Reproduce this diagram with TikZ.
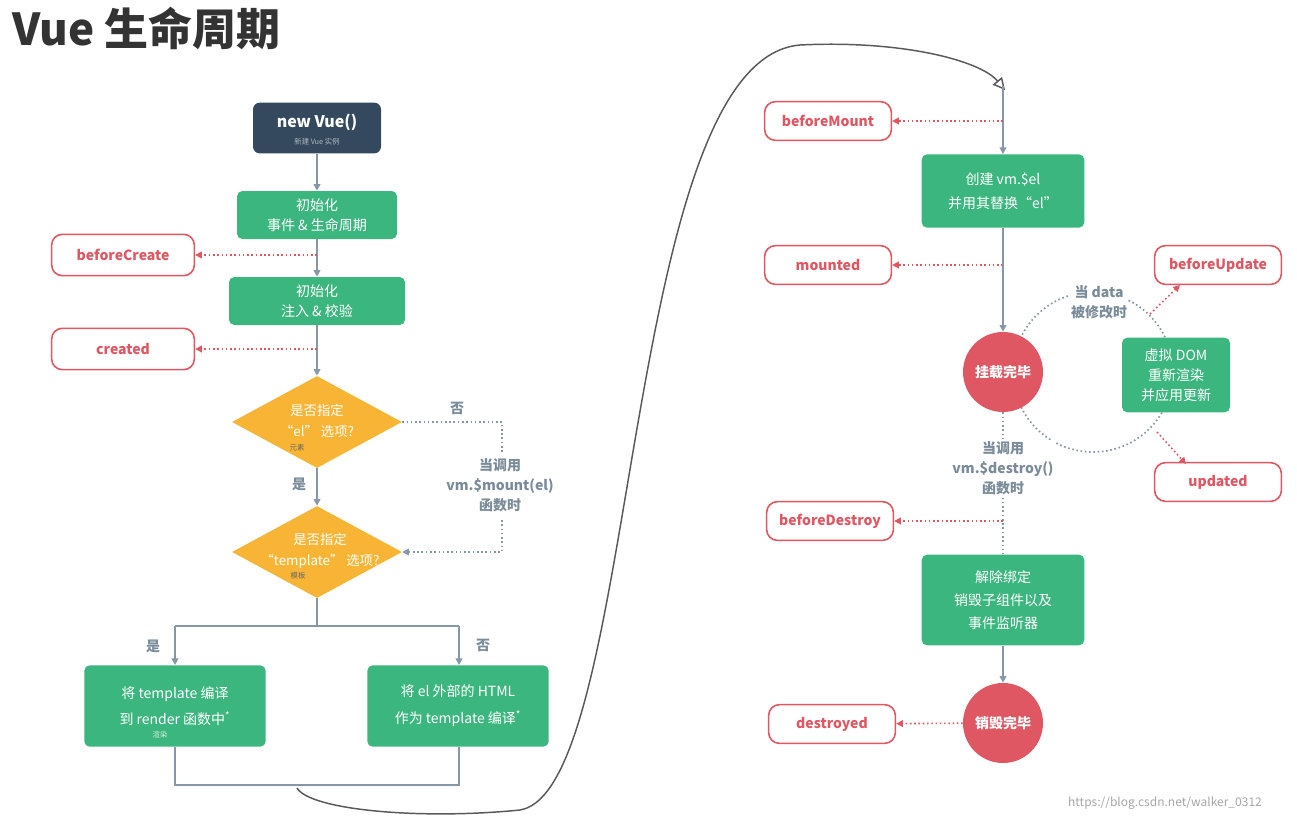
\documentclass[tikz,border=0pt]{standalone}
\usepackage{fontspec}
\setmainfont{Noto Sans CJK SC}
\usetikzlibrary{arrows.meta,shapes.geometric}
\definecolor{vgreen}{HTML}{3CB67F}
\definecolor{vdark}{HTML}{35495E}
\definecolor{vred}{HTML}{DE5762}
\definecolor{vorange}{HTML}{F8B434}
\definecolor{vgray}{HTML}{8797A6}
\definecolor{vtext}{HTML}{7A8B99}
\begin{document}
\begin{tikzpicture}[x=0.75pt,y=-0.75pt,
  gbox/.style={fill=vgreen,rounded corners=4pt,text=white,align=center,font=\fontsize{10.5}{15}\selectfont,inner sep=0pt},
  hook/.style={draw=vred,line width=1.2pt,rounded corners=8pt,text=vred,font=\bfseries\fontsize{10.5}{12}\selectfont,inner sep=0pt},
  flow/.style={draw=vgray,line width=1.3pt,-{Triangle[length=5pt,width=5pt]}},
  line/.style={draw=vgray,line width=1.3pt},
  hookarr/.style={draw=vred,line width=1.2pt,dotted,-{Triangle[length=5pt,width=5pt]}},
  gdot/.style={draw=vgray,line width=1.2pt,dotted},
  lbl/.style={text=vtext,font=\bfseries\fontsize{10.5}{15}\selectfont,align=center},
  dia/.style={diamond,fill=vorange,aspect=1.9,minimum width=170pt*0.75,minimum height=92pt*0.75,inner sep=0pt},
  circ/.style={circle,fill=vred,minimum size=60pt,text=white,font=\bfseries\fontsize{10.5}{12}\selectfont,inner sep=0pt}]
\useasboundingbox (0,0) rectangle (1297,822);
\node[anchor=west,text=black!80,font=\bfseries\fontsize{33}{36}\selectfont] (title) at (8,28) {Vue 生命周期};
% left column
\node[fill=vdark,rounded corners=5pt,minimum width=96pt,minimum height=38pt,align=center,inner sep=0pt] (nv) at (317,128) {};
\node[text=white,font=\bfseries\fontsize{12}{14}\selectfont] (nvt) at (317,122) {new Vue()};
\node[text=white!60!vdark,font=\fontsize{5.5}{6}\selectfont] (nvs) at (317,142) {新建 Vue 实例};
\node[gbox,minimum width=120pt,minimum height=36pt] (i1) at (317,215) {初始化\\事件 \& 生命周期};
\node[gbox,minimum width=132pt,minimum height=36pt] (i2) at (317,301) {初始化\\注入 \& 校验};
\node[hook,minimum width=107pt,minimum height=31pt] (bc) at (123,255) {beforeCreate};
\node[hook,minimum width=107pt,minimum height=31pt] (cr) at (123,349) {created};
\node[dia] (d1) at (317,422) {};
\node[text=white,align=center,font=\fontsize{10}{16}\selectfont] (d1t) at (317,421) {是否指定\\“el” 选项?};
\node[text=black!60,font=\fontsize{5.5}{6}\selectfont] (d1s) at (297,448) {元素};
\node[dia] (d2) at (317,552) {};
\node[text=white,align=center,font=\fontsize{10}{16}\selectfont] (d2t) at (320,551) {是否指定\\“template” 选项?};
\node[text=black!60,font=\fontsize{5.5}{6}\selectfont] (d2s) at (298,576) {模板};
\node[gbox,minimum width=136pt,minimum height=61pt,font=\fontsize{10.5}{20}\selectfont] (bl) at (175,706) {将 template 编译\\到 render 函数中\textsuperscript{*}};
\node[text=white!80!vgreen,font=\fontsize{5.5}{6}\selectfont] (bls) at (160,735) {渲染};
\node[gbox,minimum width=136pt,minimum height=61pt,font=\fontsize{10.5}{20}\selectfont] (br) at (458,706) {将 el 外部的 HTML\\作为 template 编译\textsuperscript{*}};
\draw[flow] (nv) -- (i1);
\draw[flow] (i1) -- (i2);
\draw[flow] (i2) -- (d1.north);
\draw[flow] (d1.south) -- (d2.north);
\coordinate (bcp) at (317,255);
\coordinate (crp) at (317,349);
\draw[hookarr] (bcp) -- (bc);
\draw[hookarr] (crp) -- (cr);
\node[lbl] (y1) at (299,484) {是};
\node[lbl] (n1) at (457,408) {否};
\coordinate (m1) at (502,422);
\coordinate (m2) at (502,452);
\coordinate (m3) at (502,520);
\coordinate (m4) at (502,552);
\draw[gdot] (d1.east) -- (m1) -- (m2);
\node[lbl] (mt) at (500,485) {当调用\\vm.\$mount(el)\\函数时};
\draw[gdot,-{Triangle[length=5pt,width=5pt]}] (m3) -- (m4) -- (d2.east);
\coordinate (s1) at (317,626);
\coordinate (s2) at (175,626);
\coordinate (s3) at (459,626);
\draw[line] (d2.south) -- (s1);
\draw[line] (s2) -- (s3);
\draw[flow] (s2) -- (bl.north -| s2);
\draw[flow] (s3) -- (br.north -| s3);
\node[lbl] (y2) at (153,646) {是};
\node[lbl] (n2) at (483,645) {否};
\coordinate (j1) at (175,785);
\coordinate (j2) at (459,785);
\draw[line] (bl.south -| j1) -- (j1) -- (j2) -- (br.south -| j2);
% curve
\coordinate (cs) at (297,788);
\coordinate (ce) at (1005,90);
\draw[draw=black!65,line width=1.1pt,-{Triangle[length=9pt,width=9pt,open]}] (cs) .. controls (310,810) and (420,820) .. (520,810)
  .. controls (640,790) and (620,60) .. (800,45)
  .. controls (900,40) and (980,60) .. (ce);
% right column
\node[gbox,minimum width=122pt,minimum height=55pt,font=\fontsize{10.5}{18}\selectfont] (cb) at (1003,191) {创建 vm.\$el\\并用其替换“el”};
\coordinate (top) at (1003,86);
\draw[flow] (top) -- (cb);
\node[hook,minimum width=95pt,minimum height=29pt] (bm) at (828,121) {beforeMount};
\coordinate (bmp) at (1003,121);
\draw[hookarr] (bmp) -- (bm);
\node[hook,minimum width=95pt,minimum height=29pt] (mo) at (828,265) {mounted};
\coordinate (mop) at (1003,265);
\draw[hookarr] (mop) -- (mo);
\draw[gdot,line width=1.3pt] (1093,372) circle (80);
\node[circ] (c1) at (1003,372) {挂载完毕};
\draw[flow] (cb) -- (c1);
\node[lbl,fill=white,inner sep=1pt] (dt) at (1099,302) {当 data\\被修改时};
\node[gbox,minimum width=81pt,minimum height=56pt,font=\fontsize{10.5}{15}\selectfont] (vd) at (1176,375) {虚拟 DOM\\重新渲染\\并应用更新};
\node[hook,minimum width=95pt,minimum height=29pt] (bu) at (1218,265) {beforeUpdate};
\node[hook,minimum width=95pt,minimum height=29pt] (up) at (1218,482) {updated};
\coordinate (bup) at (1150,314);
\coordinate (upp) at (1157,432);
\draw[hookarr] (bup) -- (1180,285);
\draw[hookarr] (upp) -- (1186,464);
\node[gbox,minimum width=122pt,minimum height=68pt,font=\fontsize{10.5}{17}\selectfont] (db) at (1003,600) {解除绑定\\销毁子组件以及\\事件监听器};
\draw[gdot] (c1) -- (db);
\node[lbl,fill=white,inner sep=1pt] (dst) at (1003,468) {当调用\\vm.\$destroy()\\函数时};
\node[hook,minimum width=95pt,minimum height=29pt] (bd) at (830,521) {beforeDestroy};
\coordinate (bdp) at (1003,521);
\draw[hookarr] (bdp) -- (bd);
\node[circ] (c2) at (1003,723) {销毁完毕};
\draw[flow] (db) -- (c2);
\node[hook,minimum width=95pt,minimum height=29pt] (de) at (832,724) {destroyed};
\draw[hookarr] (c2) -- (de);
\node[text=black!35,font=\fontsize{9}{10}\selectfont] (wm) at (1165,803) {https://blog.csdn.net/walker\_0312};
\end{tikzpicture}
\end{document}
